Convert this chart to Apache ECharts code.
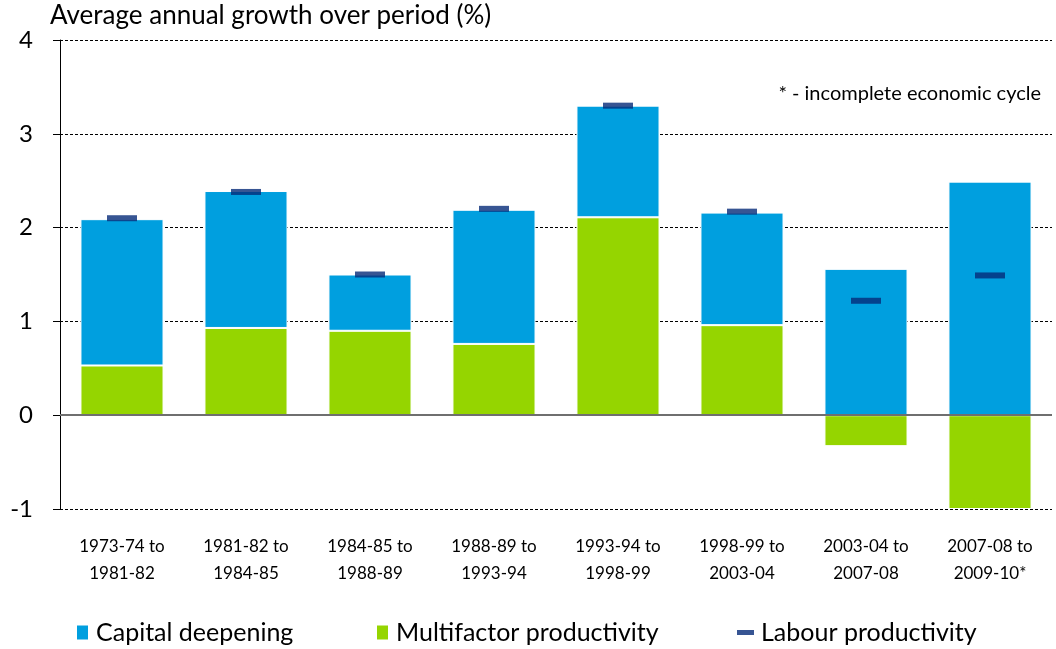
<!DOCTYPE html>
<html>
<head>
<meta charset="utf-8">
<script src="https://cdn.jsdelivr.net/npm/echarts@6/dist/echarts.min.js"></script>
<style>
  html, body { margin: 0; padding: 0; background: #fff; }
  #main { width: 1056px; height: 649px; }
</style>
</head>
<body>
<div id="main"></div>
<script>
// periods on the x axis
var periods = ['1973-74 to\n1981-82', '1981-82 to\n1984-85', '1984-85 to\n1988-89', '1988-89 to\n1993-94',
  '1993-94 to\n1998-99', '1998-99 to\n2003-04', '2003-04 to\n2007-08', '2007-08 to\n2009-10*'];

// contributions, % a year
var multifactor = [0.53, 0.93, 0.90, 0.76, 2.11, 0.96, -0.33, -1.00];
var capitalDeepening = [1.56, 1.46, 0.60, 1.43, 1.19, 1.20, 1.56, 2.49];
var labourProductivity = [2.10, 2.38, 1.50, 2.20, 3.30, 2.17, 1.22, 1.49];

var yTicks = [-1, 0, 1, 2, 3, 4];

var FONT = 'Lato';
var myChart = echarts.init(document.getElementById('main'), null, { renderer: 'canvas' });

var legendText = { fontSize: 25, fontFamily: FONT, color: '#000', padding: [0, 0, 0, 2] };

var option = {
  animation: false,
  textStyle: { fontFamily: FONT, color: '#000' },
  grid: { left: 60, right: 4, top: 40, bottom: 140 },
  graphic: [
    {
      type: 'text', left: 50, top: 3,
      style: { text: 'Average annual growth over period (%)', fontSize: 26, fontFamily: FONT, fill: '#000' }
    },
    {
      type: 'text', right: 15, top: 84,
      style: { text: '* - incomplete economic cycle', fontSize: 20, fontFamily: FONT, fill: '#000' }
    }
  ],
  legend: [
    {
      left: 75, top: 620, padding: 0, itemWidth: 13, itemHeight: 16,
      textStyle: legendText,
      data: [{ name: 'Capital deepening', icon: 'rect' }]
    },
    {
      left: 375, top: 620, padding: 0, itemWidth: 13, itemHeight: 16,
      textStyle: legendText,
      data: [{ name: 'Multifactor productivity', icon: 'rect' }]
    },
    {
      left: 737, top: 620, padding: 0, itemWidth: 17, itemHeight: 5,
      textStyle: legendText,
      data: [{ name: 'Labour productivity', icon: 'rect' }]
    }
  ],
  xAxis: {
    type: 'category',
    data: periods,
    axisLine: { show: false, onZero: false },
    axisTick: { show: false },
    axisLabel: { fontSize: 17, lineHeight: 27, margin: 24, color: '#000', interval: 0 }
  },
  yAxis: {
    type: 'value',
    min: yTicks[0],
    max: yTicks[yTicks.length - 1],
    interval: 1,
    axisLine: { show: true, lineStyle: { color: '#000', width: 1 } },
    axisTick: { show: true, length: 7, lineStyle: { color: '#000' } },
    axisLabel: { fontSize: 24, margin: 27, color: '#000' },
    splitLine: { show: true, lineStyle: { color: '#000', type: [3, 2], width: 1 } }
  },
  series: [
    {
      name: 'Multifactor productivity',
      type: 'bar',
      stack: 'growth',
      data: multifactor,
      barWidth: '67%',
      itemStyle: { color: '#95d500', borderColor: '#ffffff', borderWidth: 1 },
      markLine: {
        silent: true,
        symbol: 'none',
        label: { show: false },
        lineStyle: { color: '#6f6f6f', type: 'solid', width: 2 },
        data: [{ yAxis: 0 }]
      },
      z: 2
    },
    {
      name: 'Capital deepening',
      type: 'bar',
      stack: 'growth',
      data: capitalDeepening,
      barWidth: '67%',
      itemStyle: { color: '#009fdf', borderColor: '#ffffff', borderWidth: 1 },
      z: 2
    },
    {
      name: 'Labour productivity',
      type: 'scatter',
      data: labourProductivity,
      symbol: 'rect',
      symbolSize: [30, 6],
      itemStyle: { color: '#052a78' },
      z: 5
    }
  ]
};

myChart.setOption(option);
</script>
</body>
</html>
